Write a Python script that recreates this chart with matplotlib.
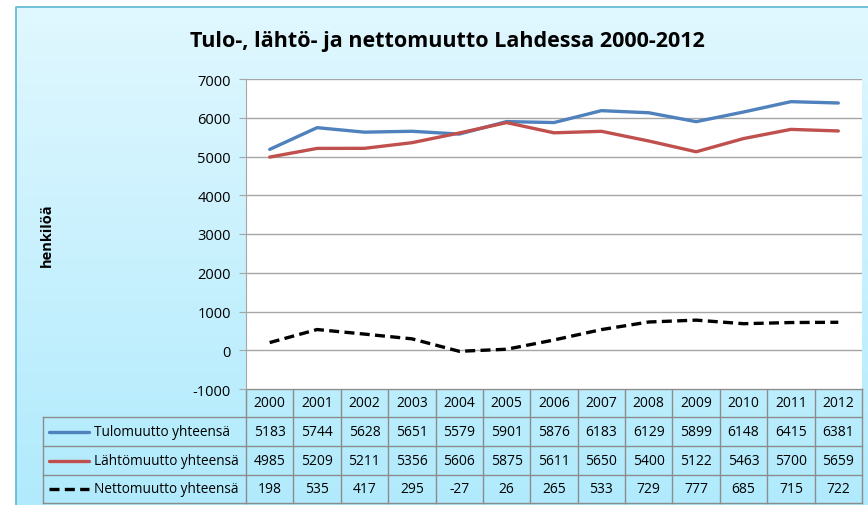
import numpy as np
import matplotlib.pyplot as plt

years = ['2000', '2001', '2002', '2003', '2004', '2005', '2006',
         '2007', '2008', '2009', '2010', '2011', '2012']
tulo = [5183, 5744, 5628, 5651, 5579, 5901, 5876, 6183, 6129, 5899, 6148, 6415, 6381]
lahto = [4985, 5209, 5211, 5356, 5606, 5875, 5611, 5650, 5400, 5122, 5463, 5700, 5659]
netto = [198, 535, 417, 295, -27, 26, 265, 533, 729, 777, 685, 715, 722]
names = ['Tulomuutto yhteensä', 'Lähtömuutto yhteensä', 'Nettomuutto yhteensä']
yticks = [-1000, 0, 1000, 2000, 3000, 4000, 5000, 6000, 7000]

plt.rcParams['font.family'] = ['Open Sans', 'DejaVu Sans']

W, H = 868, 506
fig = plt.figure(figsize=(W / 100, H / 100), dpi=100)

# pixel-space overlay for background panel and table
bg = fig.add_axes([0, 0, 1, 1])
bg.set_xlim(0, W)
bg.set_ylim(H, 0)
bg.axis('off')
grad = np.linspace(0, 1, 256).reshape(-1, 1)
top_c = np.array([0.88, 0.97, 1.0])
bot_c = np.array([0.69, 0.92, 0.99])
img = top_c + grad[..., None] * (bot_c - top_c)
bg.imshow(img, extent=(16, W + 2, H + 2, 8), aspect='auto', zorder=0)
bg.plot([16, 16, W + 2], [H + 2, 8, 8], color='#5bb8cf', lw=1.2, zorder=1)

# main chart
x0, x1, ytop, ybot = 246, 862, 80, 390
ax = fig.add_axes([x0 / W, 1 - ybot / H, (x1 - x0) / W, (ybot - ytop) / H])
ax.set_facecolor('white')
xs = np.arange(len(years)) + 0.5
colors = ['#4f81bd', '#c0504d', 'black']
dashed = [False, False, True]
series = [tulo, lahto, netto]
for vals, c, d in zip(series, colors, dashed):
    ln, = ax.plot(xs, vals, color=c, lw=2.4, solid_capstyle='round')
    if d:
        ln.set_dashes((3, 1.6))
ax.set_xlim(0, len(years))
ax.set_ylim(-1000, 7000)
ax.set_yticks(yticks)
ax.set_yticklabels([str(v) for v in yticks], fontsize=10.5)
ax.set_xticks([])
ax.grid(axis='y', color='#a6a6a6', lw=1)
ax.set_axisbelow(True)
for s in ['top', 'right', 'bottom']:
    ax.spines[s].set_visible(False)
ax.spines['left'].set_color('#a6a6a6')
ax.tick_params(axis='y', length=5, color='#a6a6a6', pad=6)

fig.text(447 / W, 1 - 42 / H, 'Tulo-, lähtö- ja nettomuutto Lahdessa 2000-2012',
         ha='center', va='center', fontsize=15.5, fontweight='bold')
fig.text(47 / W, 1 - 235 / H, 'henkilöä', rotation=90, ha='center', va='center',
         fontsize=10.5, fontweight='bold')

# data table
tl, cw = 43, (x1 - x0) / len(years)
rows = [ybot, 418, 447, 476, 504]
gc = '#8c8c8c'
for i, yr in enumerate(years):
    cx = x0 + (i + 0.5) * cw
    bg.text(cx, (rows[0] + rows[1]) / 2, yr, ha='center', va='center', fontsize=10)
    for r, vals in enumerate(series):
        bg.text(cx, (rows[r + 1] + rows[r + 2]) / 2, str(vals[i]), ha='center',
                va='center', fontsize=10)
for r, (nm, c, d) in enumerate(zip(names, colors, dashed)):
    cy = (rows[r + 1] + rows[r + 2]) / 2
    ln, = bg.plot([49, 89], [cy, cy], color=c, lw=2.4, solid_capstyle='round')
    if d:
        ln.set_dashes((3, 1.6))
    bg.text(94, cy, nm, ha='left', va='center', fontsize=9.8)
# grid lines of the table
for k, y in enumerate(rows):
    bg.plot([x0 if k == 0 else tl, x1], [y, y], color=gc, lw=1)
for i in range(len(years) + 1):
    bg.plot([x0 + i * cw] * 2, [rows[0], rows[-1]], color=gc, lw=1)
bg.plot([tl, tl], [rows[1], rows[-1]], color=gc, lw=1)

fig.savefig('out.png', dpi=100)
